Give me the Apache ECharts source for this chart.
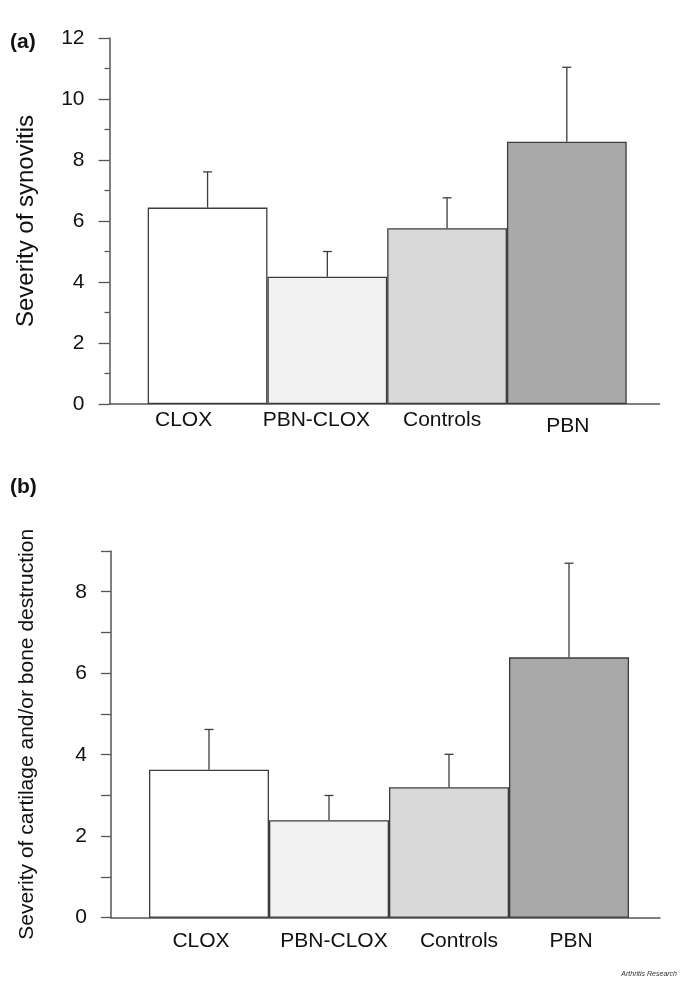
<!DOCTYPE html>
<html>
<head>
<meta charset="utf-8">
<script src="https://cdn.jsdelivr.net/npm/echarts@6/dist/echarts.min.js"></script>
<style>html,body{margin:0;padding:0;background:#fff}#c{width:685px;height:982px}</style>
</head>
<body>
<div id="c"></div>
<script>
// ---- data ----
var categories = ['CLOX', 'PBN-CLOX', 'Controls', 'PBN'];
var synovitisMean = [6.44, 4.17, 5.76, 8.6];
var synovitisErr = [1.17, 0.83, 1.0, 2.44];
var destructionMean = [3.63, 2.39, 3.2, 6.39];
var destructionErr = [0.99, 0.61, 0.81, 2.31];
var topTicks = [0, 2, 4, 6, 8, 10, 12];
var bottomTicks = [0, 2, 4, 6, 8];

// ---- styles ----
var barColors = ['#ffffff', '#f2f2f2', '#d9d9d9', '#a9a9a9'];
var topLabelShift = [-24, -11, -5, 1];     // horizontal nudges of category labels (px)
var topLabelDrop = [0, 0, -2, 3];
var bottomLabelShift = [-8, 5, 10, 2];
var FONT = 'Liberation Sans';
var AX = '#555555';
var EDGE = '#3c3c3c';

var chart = echarts.init(document.getElementById('c'), null, {renderer: 'canvas'});

function barData(vals) {
  return vals.map(function (v, i) {
    return {value: v, itemStyle: {color: barColors[i]}};
  });
}
function catData(shift, drop) {
  return categories.map(function (c, i) {
    var s = shift[i], d = drop ? drop[i] : 0;
    return {value: c, textStyle: {padding: [Math.max(0, 2 * d), Math.max(0, -2 * s), Math.max(0, -2 * d), Math.max(0, 2 * s)]}};
  });
}
function errData(means, errs) {
  return means.map(function (m, i) { return [i, m, m + errs[i]]; });
}
function renderErr(params, api) {
  var x = api.value(0);
  var p0 = api.coord([x, api.value(1)]);
  var p1 = api.coord([x, api.value(2)]);
  var hw = 4.5;
  var st = {stroke: '#3c3c3c', lineWidth: 1.3};
  return {
    type: 'group',
    children: [
      {type: 'line', shape: {x1: p0[0], y1: p0[1], x2: p1[0], y2: p1[1]}, style: st},
      {type: 'line', shape: {x1: p1[0] - hw, y1: p1[1], x2: p1[0] + hw, y2: p1[1]}, style: st}
    ]
  };
}

var option = {
  animation: false,
  backgroundColor: '#ffffff',
  title: [
    {text: '(a)', left: 5, top: 27, textStyle: {fontFamily: FONT, fontSize: 21, fontWeight: 'bold', color: '#111'}},
    {text: '(b)', left: 5, top: 472, textStyle: {fontFamily: FONT, fontSize: 21, fontWeight: 'bold', color: '#111'}},
    {text: 'Arthritis Research', right: 3, top: 966, textStyle: {fontFamily: FONT, fontSize: 7, fontStyle: 'italic', fontWeight: 'normal', color: '#333'}}
  ],
  grid: [
    {left: 147.7, top: 38, width: 479, height: 366},
    {left: 109.5, top: 38, width: 550, height: 366},
    {left: 149, top: 551, width: 480, height: 366.7},
    {left: 111, top: 551, width: 549, height: 366.7}
  ],
  xAxis: [
    {gridIndex: 0, type: 'category', data: catData(topLabelShift, topLabelDrop), boundaryGap: true,
     axisLine: {show: false}, axisTick: {show: false},
     axisLabel: {fontFamily: FONT, fontSize: 21, color: '#111', margin: 6, interval: 0}},
    {gridIndex: 1, type: 'value', min: 0, max: 1, axisLine: {show: true, lineStyle: {color: AX, width: 1.5}},
     axisTick: {show: false}, axisLabel: {show: false}, splitLine: {show: false}},
    {gridIndex: 2, type: 'category', data: catData(bottomLabelShift), boundaryGap: true,
     axisLine: {show: false}, axisTick: {show: false},
     axisLabel: {fontFamily: FONT, fontSize: 21, color: '#111', margin: 13, interval: 0}},
    {gridIndex: 3, type: 'value', min: 0, max: 1, axisLine: {show: true, lineStyle: {color: AX, width: 1.5}},
     axisTick: {show: false}, axisLabel: {show: false}, splitLine: {show: false}}
  ],
  yAxis: [
    {gridIndex: 0, type: 'value', min: topTicks[0], max: topTicks[topTicks.length - 1], interval: 2, offset: 38.2,
     name: 'Severity of synovitis', nameLocation: 'middle', nameGap: 71,
     nameTextStyle: {fontFamily: FONT, fontSize: 24, color: '#111'},
     axisLine: {show: true, lineStyle: {color: AX, width: 1.5}},
     axisTick: {show: true, length: 11, lineStyle: {color: AX, width: 1.3}},
     minorTick: {show: true, splitNumber: 2, length: 5, lineStyle: {color: AX, width: 1.3}},
     axisLabel: {fontFamily: FONT, fontSize: 21, color: '#111', margin: 25},
     splitLine: {show: false}, minorSplitLine: {show: false}},
    {gridIndex: 1, type: 'value', min: 0, max: 1, show: false},
    {gridIndex: 2, type: 'value', min: 0, max: 9, interval: 1, offset: 38,
     name: 'Severity of cartilage and/or bone destruction', nameLocation: 'middle', nameGap: 73,
     nameTextStyle: {fontFamily: FONT, fontSize: 21, color: '#111'},
     axisLine: {show: true, lineStyle: {color: AX, width: 1.5}},
     axisTick: {show: true, length: 10, lineStyle: {color: AX, width: 1.3}},
     axisLabel: {fontFamily: FONT, fontSize: 21, color: '#111', margin: 24,
       formatter: function (v) { return bottomTicks.indexOf(v) >= 0 ? String(v) : ''; }},
     splitLine: {show: false}},
    {gridIndex: 3, type: 'value', min: 0, max: 1, show: false}
  ],
  series: [
    {type: 'bar', xAxisIndex: 0, yAxisIndex: 0, data: barData(synovitisMean), barCategoryGap: '0%',
     itemStyle: {borderColor: EDGE, borderWidth: 1.3}, z: 2},
    {type: 'custom', xAxisIndex: 0, yAxisIndex: 0, data: errData(synovitisMean, synovitisErr),
     renderItem: renderErr, z: 3, encode: {x: 0, y: [1, 2]}},
    {type: 'bar', xAxisIndex: 2, yAxisIndex: 2, data: barData(destructionMean), barCategoryGap: '0%',
     itemStyle: {borderColor: EDGE, borderWidth: 1.3}, z: 2},
    {type: 'custom', xAxisIndex: 2, yAxisIndex: 2, data: errData(destructionMean, destructionErr),
     renderItem: renderErr, z: 3, encode: {x: 0, y: [1, 2]}}
  ]
};
chart.setOption(option);
</script>
</body>
</html>
